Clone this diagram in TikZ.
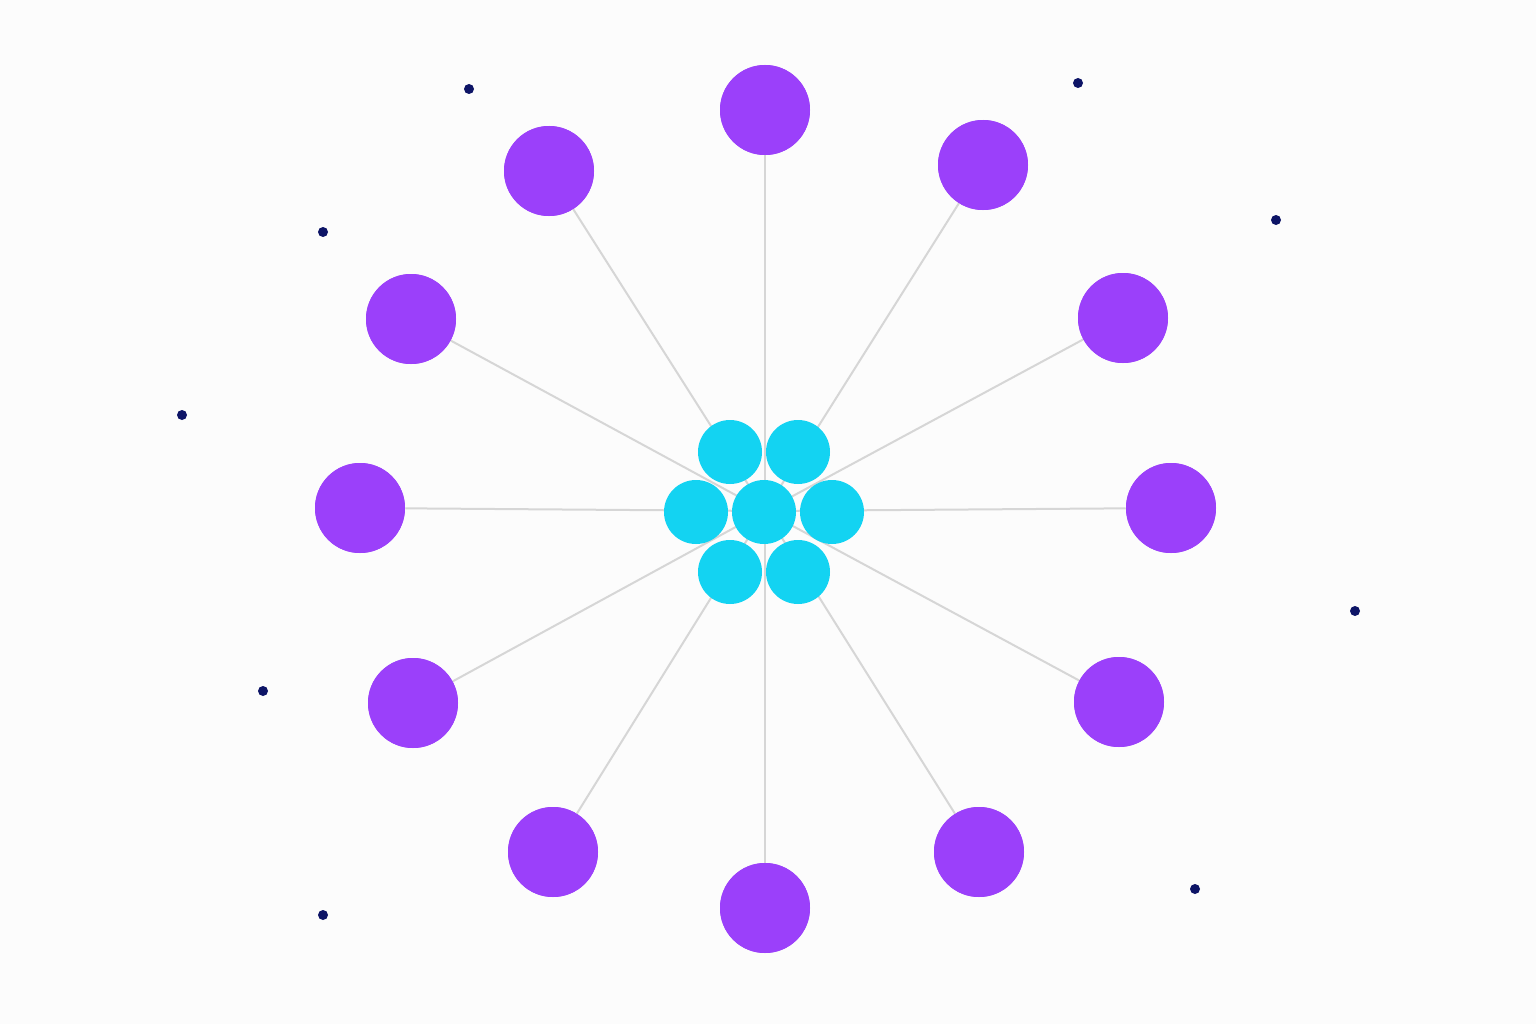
\documentclass[tikz,border=0pt]{standalone}
\begin{document}
\begin{tikzpicture}[x=0.75pt,y=-0.75pt,
  outer/.style={circle,fill=purpleC,minimum size=90*0.75pt,inner sep=0pt},
  inner/.style={circle,fill=cyanC,minimum size=64*0.75pt,inner sep=0pt},
  spoke/.style={draw=grayC,line width=1.5pt},
  dotn/.style={circle,fill=navyC,minimum size=10*0.75pt,inner sep=0pt}]
\definecolor{purpleC}{HTML}{9B40FA}
\definecolor{cyanC}{HTML}{13D3F2}
\definecolor{grayC}{HTML}{D6D6D6}
\definecolor{navyC}{HTML}{0D1466}
\fill[white!99!black] (0,0) rectangle (1536,1024);
\useasboundingbox (0,0) rectangle (1536,1024);
\coordinate (c) at (765,511);
\foreach \n/\x/\y in {p1/765/110,p2/549/171,p3/983/165,p4/411/319,p5/1123/318,p6/360/508,p7/1171/508,p8/413/703,p9/1119/702,p10/553/852,p11/979/852,p12/765/908}{
  \node[outer] (\n) at (\x,\y) {};
}
\begin{scope}[on background layer/.style={}]
\foreach \n in {p1,p2,p3,p4,p5,p6,p7,p8,p9,p10,p11,p12}{
  \draw[spoke] (c) -- (\n);
}
\end{scope}
\foreach \n/\x/\y in {p1/765/110,p2/549/171,p3/983/165,p4/411/319,p5/1123/318,p6/360/508,p7/1171/508,p8/413/703,p9/1119/702,p10/553/852,p11/979/852,p12/765/908}{
  \node[outer] at (\x,\y) {};
}
\foreach \n/\x/\y in {i1/730/452,i2/798/452,i3/696/512,i4/764/512,i5/832/512,i6/730/572,i7/798/572}{
  \node[inner] (\n) at (\x,\y) {};
}
\foreach \n/\x/\y in {d1/469/89,d2/1078/83,d3/323/232,d4/1276/220,d5/182/415,d6/1355/611,d7/263/691,d8/1195/889,d9/323/915}{
  \node[dotn] (\n) at (\x,\y) {};
}
\end{tikzpicture}
\end{document}
